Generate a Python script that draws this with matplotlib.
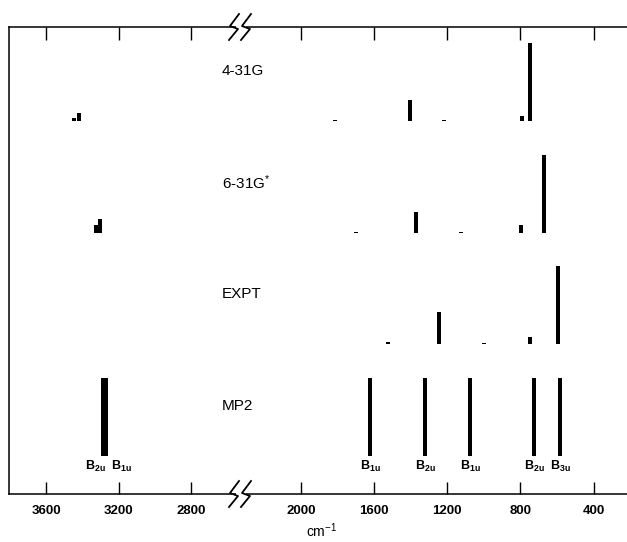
import numpy as np
import matplotlib
matplotlib.use("Agg")
import matplotlib.pyplot as plt
from matplotlib.lines import Line2D
from matplotlib.patches import Rectangle

plt.rcParams['font.family'] = ['Liberation Sans', 'DejaVu Sans']
plt.rcParams['mathtext.default'] = 'regular'

# calculated / observed IR spectra (cm-1, relative intensity)
freq_431g = [3446, 3418, 1813, 1403, 1218, 793, 748]
int_431g = [4, 10, 1.5, 27, 1.5, 6, 100]

freq_631g = [3322, 3302, 1700, 1371, 1126, 795, 671]
int_631g = [10, 18, 1.5, 27, 1.5, 10, 100]

freq_expt = [1522, 1246, 999, 748, 595]
int_expt = [2.5, 41, 1.5, 9, 100]

freq_mp2 = [3287, 3268, 1622, 1321, 1075, 724, 584]
int_mp2 = [100, 100, 100, 100, 100, 100, 100]
sym_mp2 = ['B$_{2u}$', 'B$_{1u}$', 'B$_{1u}$', 'B$_{2u}$', 'B$_{1u}$', 'B$_{2u}$', 'B$_{3u}$']

methods = ['4-31G', '6-31G$^{*}$', 'EXPT', 'MP2']
baselines = [373, 261, 150, 38]
ticks_hi = [3600, 3200, 2800]
ticks_lo = [2000, 1600, 1200, 800, 400]

W, H = 627, 542
x_left, x_join, x_right = 9, 240, 627
y_top, y_bot = 27, 494
scale = 0.78      # height units per 100% intensity
bw = 22           # bar width, cm-1

fig = plt.figure(figsize=(W / 100, H / 100), dpi=100)
rect_h = (y_bot - y_top) / H
ax1 = fig.add_axes([x_left / W, 1 - y_bot / H, (x_join - x_left) / W, rect_h])
ax2 = fig.add_axes([x_join / W, 1 - y_bot / H, (x_right - x_join) / W, rect_h], sharey=ax1)

ax1.set_xlim(3804, 2531)
ax2.set_xlim(2332, 218)
ax1.set_ylim(0, y_bot - y_top)


def draw(freqs, ints, base):
    for f, i in zip(freqs, ints):
        ax = ax1 if f > 2400 else ax2
        ax.bar(f, i * scale, width=bw, bottom=base, color='black', linewidth=0)


draw(freq_431g, int_431g, baselines[0])
draw(freq_631g, int_631g, baselines[1])
draw(freq_expt, int_expt, baselines[2])
draw(freq_mp2, int_mp2, baselines[3])

# symmetry labels under the MP2 lines
lab_y = baselines[3] - 14
for k, (f, s) in enumerate(zip(freq_mp2, sym_mp2)):
    ax = ax1 if f > 2400 else ax2
    if k == 0:
        ax.annotate(s, (f, lab_y), xytext=(2, 0), textcoords='offset points',
                    ha='right', va='baseline', fontsize=9, fontweight='bold')
    elif k == 1:
        ax.annotate(s, (f, lab_y), xytext=(3.5, 0), textcoords='offset points',
                    ha='left', va='baseline', fontsize=9, fontweight='bold')
    else:
        ax.text(f, lab_y, s, ha='center', va='baseline', fontsize=9, fontweight='bold')

for ax, tks in ((ax1, ticks_hi), (ax2, ticks_lo)):
    ax.set_xticks(tks)
    ax.set_xticklabels([str(t) for t in tks], fontsize=9.5, fontweight='bold')
    ax.set_yticks([])
    ax.tick_params(axis='x', direction='in', length=9, width=1, top=True, pad=8)
    for sp in ax.spines.values():
        sp.set_linewidth(1.1)
ax1.spines['right'].set_visible(False)
ax2.spines['left'].set_visible(False)
ax2.spines['right'].set_visible(False)

# method names
for name, base in zip(methods, baselines):
    fig.text(222 / W, 1 - (y_bot - base - 50) / H, name, fontsize=11,
             ha='left', va='center')

fig.text(322 / W, 1 - 531 / H, 'cm$^{-1}$', fontsize=10, ha='center', va='center')


# axis break marks
def px(x, y):
    return x / W, 1 - y / H


for ly in (y_top, y_bot):
    x0, y0 = px(236, ly + 3)
    x1, y1 = px(246, ly - 3)
    fig.add_artist(Rectangle((x0, y0), x1 - x0, y1 - y0, transform=fig.transFigure,
                             facecolor='white', edgecolor='none', zorder=5))
    for cx in (234, 246):
        pts = [(cx + 5, ly - 13), (cx - 4, ly - 1), (cx + 4, ly + 2), (cx - 5, ly + 13)]
        xs = [px(a, b)[0] for a, b in pts]
        ys = [px(a, b)[1] for a, b in pts]
        fig.add_artist(Line2D(xs, ys, transform=fig.transFigure, color='black',
                              linewidth=1.3, zorder=6))

fig.savefig('out.png', dpi=100)
